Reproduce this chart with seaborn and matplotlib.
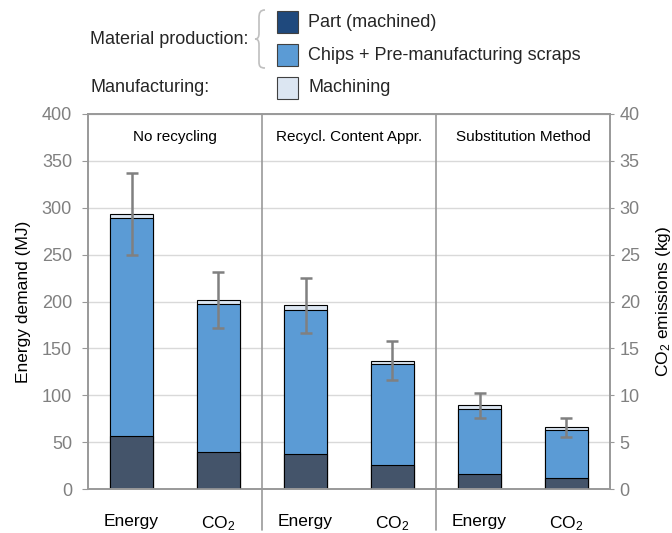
import matplotlib
matplotlib.use("Agg")
import matplotlib.pyplot as plt
from matplotlib.patches import Rectangle, PathPatch
from matplotlib.path import Path
import seaborn as sns
import pandas as pd
import numpy as np

# ---- data -------------------------------------------------------------
groups = ["No recycling", "Recycl. Content Appr.", "Substitution Method"]
metrics = ["Energy", "CO2"]
metric_labels = ["Energy", "CO$_2$"]

# Energy demand (MJ)
energy_part = [57, 37, 16]
energy_chips = [232, 154, 69]
energy_machining = [4.5, 5, 4.5]
energy_err = [44, 29.5, 13.3]

# CO2 emissions (kg)
co2_part = [3.9, 2.55, 1.2]
co2_chips = [15.85, 10.75, 5.05]
co2_machining = [0.4, 0.4, 0.35]
co2_err = [3.0, 2.1, 1.0]

c_part_bar = "#44546a"
c_part_leg = "#1f497d"
c_chips = "#5b9bd5"
c_mach = "#dce6f2"
grey = "#999999"

# ---- table ------------------------------------------------------------
rows = []
for i, g in enumerate(groups):
    rows.append(dict(slot=f"{g}|Energy", metric="Energy", part=energy_part[i],
                     chips=energy_chips[i], machining=energy_machining[i], err=energy_err[i]))
    rows.append(dict(slot=f"{g}|CO2", metric="CO2", part=co2_part[i],
                     chips=co2_chips[i], machining=co2_machining[i], err=co2_err[i]))
df = pd.DataFrame(rows)
df["lvl1"] = df["part"]
df["lvl2"] = df["part"] + df["chips"]
df["total"] = df["lvl2"] + df["machining"]
slots = list(df["slot"])

sns.set_style("white")
plt.rcParams["font.family"] = ["Liberation Sans", "DejaVu Sans"]
plt.rcParams["mathtext.default"] = "regular"

W, H = 672, 533
fig = plt.figure(figsize=(W / 100, H / 100), dpi=100)


def fx(px):
    return px / W


def fy(py):
    return 1 - py / H


ax = fig.add_axes([fx(88), fy(489), fx(610) - fx(88), fy(114) - fy(489)])
ax2 = ax.twinx()

bar_kw = dict(order=slots, width=0.5, errorbar=None, saturation=1,
              edgecolor="black", linewidth=0.8)

for axis, metric in [(ax, "Energy"), (ax2, "CO2")]:
    sub = df[df["metric"] == metric]
    sns.barplot(data=sub, x="slot", y="total", color=c_mach, ax=axis, **bar_kw)
    sns.barplot(data=sub, x="slot", y="lvl2", color=c_chips, ax=axis, **bar_kw)
    sns.barplot(data=sub, x="slot", y="lvl1", color=c_part_bar, ax=axis, **bar_kw)
    pos = [slots.index(s) for s in sub["slot"]]
    axis.errorbar(pos, sub["total"], yerr=sub["err"], fmt="none", ecolor="#808080",
                  elinewidth=1.8, capsize=4.5, capthick=1.8, zorder=5)

ax.set_ylim(0, 400)
ax2.set_ylim(0, 40)
ax.set_xlim(-0.5, 5.5)
ax.set_yticks(np.arange(0, 401, 50))
ax2.set_yticks(np.arange(0, 41, 5))

ax.set_axisbelow(True)
ax.yaxis.grid(True, color="#d9d9d9", linewidth=1)
ax.xaxis.grid(False)
ax2.grid(False)

for a in (ax, ax2):
    for s in a.spines.values():
        s.set_color(grey)
        s.set_linewidth(1.2)
        s.set_visible(True)

ax.set_xticks(range(6))
ax.set_xticklabels(metric_labels * 3, fontsize=12.5, color="black")
ax.tick_params(axis="x", length=0, pad=18)
ax.set_xticks([0.5, 2.5, 4.5], minor=True)
ax.tick_params(axis="x", which="minor", length=5, color=grey, width=1)
ax.tick_params(axis="y", length=4, color=grey, labelcolor="#808080", labelsize=13, pad=7.5)
ax2.tick_params(axis="y", length=3, color=grey, labelcolor="#808080", labelsize=13, pad=4)
ax.set_xlabel("")
ax2.set_xlabel("")
ax.set_ylabel("Energy demand (MJ)", fontsize=12.5, color="black", labelpad=8)
ax2.set_ylabel("CO$_2$ emissions (kg)", fontsize=12.5, color="black", labelpad=10)

# group separators reaching down into the label area
for xb in (1.5, 3.5):
    ax.axvline(xb, ymin=-0.11, ymax=1, color=grey, linewidth=1.2, clip_on=False, zorder=6)

# group titles
for i, g in enumerate(groups):
    ax.text(2 * i + 0.5, 375, g, ha="center", va="center", fontsize=11, color="black")

# ---- legend -------------------------------------------------------------
fs = 13
fig.text(fx(90), fy(40), "Material production:", ha="left", va="center", fontsize=fs)
fig.text(fx(90), fy(88), "Manufacturing:", ha="left", va="center", fontsize=fs)

leg_items = [("Part (machined)", c_part_leg, 22), ("Chips + Pre-manufacturing scraps", c_chips, 55),
             ("Machining", c_mach, 88)]
for label, col, yc in leg_items:
    fig.patches.append(Rectangle((fx(277), fy(yc + 11)), fx(21), fy(yc - 11) - fy(yc + 11),
                                 transform=fig.transFigure, facecolor=col,
                                 edgecolor="#404040", linewidth=0.8))
    fig.text(fx(308), fy(yc), label, ha="left", va="center", fontsize=fs)

brace = [(265, 10), (260, 10), (259, 13), (259, 18), (259, 33), (259, 37), (258, 39), (255, 39),
         (258, 39), (259, 41), (259, 45), (259, 62), (259, 66), (260, 68), (265, 68)]
codes = [Path.MOVETO, Path.CURVE4, Path.CURVE4, Path.CURVE4, Path.LINETO,
         Path.CURVE4, Path.CURVE4, Path.CURVE4, Path.CURVE4, Path.CURVE4, Path.CURVE4,
         Path.LINETO, Path.CURVE4, Path.CURVE4, Path.CURVE4]
verts = [(fx(x), fy(y)) for x, y in brace]
fig.patches.append(PathPatch(Path(verts, codes), transform=fig.transFigure,
                             facecolor="none", edgecolor="#bfbfbf", linewidth=1.2))

fig.savefig("out.png", dpi=100)
